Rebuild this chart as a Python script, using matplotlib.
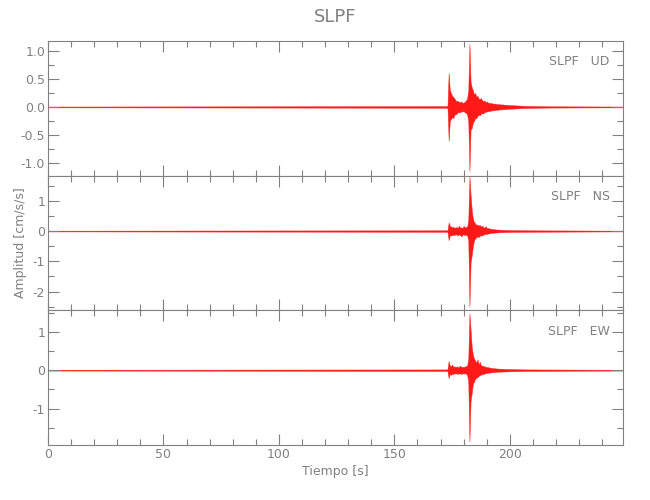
import numpy as np
import matplotlib
matplotlib.use("Agg")
import matplotlib.pyplot as plt
from matplotlib.ticker import MultipleLocator, FormatStrFormatter

# ---------------- data ----------------
station = "SLPF"
components = ["UD", "NS", "EW"]
record_start, record_end = 0.0, 249.0
t_active = np.arange(172.0, 216.01, 0.5)   # envelope sample times [s]

quiet_ud, quiet_ns, quiet_ew = 0.007, 0.012, 0.010

ud_upper = [0.015, 0.015, 0.02, 0.61, 0.30, 0.25, 0.20, 0.18, 0.15, 0.12,
            0.10, 0.11, 0.09, 0.08, 0.10, 0.07, 0.08, 0.09, 0.12, 0.15,
            0.30, 1.13, 0.45, 0.35, 0.30, 0.22, 0.25, 0.18, 0.20, 0.15,
            0.14, 0.16, 0.12, 0.10, 0.12, 0.08, 0.10, 0.08, 0.07, 0.07,
            0.07, 0.06, 0.06, 0.06, 0.055, 0.05, 0.05, 0.05, 0.045, 0.045,
            0.045, 0.04, 0.04, 0.04, 0.035, 0.035, 0.035, 0.03, 0.03, 0.03,
            0.03, 0.028, 0.027, 0.026, 0.025, 0.024, 0.023, 0.022, 0.021, 0.02,
            0.02, 0.019, 0.019, 0.018, 0.018, 0.017, 0.017, 0.016, 0.016, 0.015,
            0.015, 0.015, 0.014, 0.014, 0.014, 0.013, 0.013, 0.013, 0.012]
ud_lower = [-0.015, -0.015, -0.02, -0.61, -0.25, -0.22, -0.18, -0.20, -0.14, -0.13,
            -0.12, -0.09, -0.10, -0.09, -0.08, -0.08, -0.07, -0.10, -0.10, -0.14,
            -0.25, -1.15, -0.40, -0.38, -0.28, -0.25, -0.20, -0.20, -0.16, -0.14,
            -0.15, -0.12, -0.11, -0.12, -0.09, -0.09, -0.08, -0.07, -0.08, -0.07,
            -0.06, -0.065, -0.055, -0.06, -0.05, -0.05, -0.05, -0.045, -0.045, -0.045,
            -0.04, -0.04, -0.04, -0.035, -0.035, -0.035, -0.03, -0.03, -0.03, -0.03,
            -0.028, -0.028, -0.026, -0.025, -0.025, -0.023, -0.022, -0.022, -0.02, -0.02,
            -0.019, -0.019, -0.018, -0.018, -0.017, -0.017, -0.016, -0.016, -0.015, -0.015,
            -0.015, -0.014, -0.014, -0.014, -0.013, -0.013, -0.013, -0.012, -0.012]

ns_upper = [0.025, 0.025, 0.03, 0.28, 0.18, 0.15, 0.12, 0.14, 0.11, 0.12,
            0.13, 0.10, 0.18, 0.11, 0.12, 0.10, 0.17, 0.12, 0.13, 0.15,
            0.35, 1.80, 1.20, 0.70, 0.40, 0.30, 0.25, 0.20, 0.22, 0.18,
            0.20, 0.15, 0.18, 0.12, 0.12, 0.16, 0.10, 0.10, 0.09, 0.08,
            0.07, 0.07, 0.06, 0.06, 0.05, 0.05, 0.05, 0.045, 0.045, 0.04,
            0.04, 0.04, 0.038, 0.036, 0.035, 0.034, 0.033, 0.032, 0.031, 0.03,
            0.03, 0.03, 0.029, 0.029, 0.028, 0.028, 0.027, 0.027, 0.027, 0.026,
            0.026, 0.026, 0.026, 0.025, 0.025, 0.025, 0.025, 0.025, 0.024, 0.024,
            0.024, 0.024, 0.023, 0.023, 0.023, 0.023, 0.022, 0.022, 0.022]
ns_lower = [-0.025, -0.025, -0.03, -0.30, -0.15, -0.14, -0.14, -0.12, -0.13, -0.11,
            -0.12, -0.14, -0.11, -0.13, -0.18, -0.11, -0.12, -0.13, -0.12, -0.15,
            -0.30, -2.50, -1.05, -0.80, -0.50, -0.30, -0.25, -0.20, -0.18, -0.20,
            -0.15, -0.14, -0.15, -0.12, -0.10, -0.10, -0.09, -0.08, -0.08, -0.07,
            -0.06, -0.06, -0.055, -0.05, -0.05, -0.045, -0.045, -0.04, -0.04, -0.04,
            -0.038, -0.036, -0.035, -0.034, -0.033, -0.032, -0.031, -0.03, -0.03, -0.03,
            -0.029, -0.029, -0.028, -0.028, -0.027, -0.027, -0.026, -0.026, -0.026, -0.025,
            -0.025, -0.025, -0.025, -0.025, -0.024, -0.024, -0.024, -0.024, -0.023, -0.023,
            -0.023, -0.023, -0.023, -0.022, -0.022, -0.022, -0.022, -0.022, -0.022]

ew_upper = [0.02, 0.02, 0.025, 0.24, 0.12, 0.10, 0.15, 0.09, 0.10, 0.08,
            0.10, 0.08, 0.09, 0.12, 0.08, 0.09, 0.08, 0.10, 0.10, 0.12,
            0.30, 1.48, 1.06, 0.60, 0.40, 0.30, 0.25, 0.20, 0.28, 0.15,
            0.22, 0.13, 0.12, 0.11, 0.10, 0.09, 0.08, 0.08, 0.07, 0.065,
            0.06, 0.055, 0.05, 0.05, 0.045, 0.045, 0.04, 0.04, 0.04, 0.038,
            0.036, 0.035, 0.034, 0.033, 0.032, 0.031, 0.03, 0.029, 0.028, 0.027,
            0.026, 0.025, 0.025, 0.024, 0.024, 0.023, 0.023, 0.022, 0.022, 0.021,
            0.021, 0.021, 0.02, 0.02, 0.02, 0.02, 0.02, 0.02, 0.02, 0.02,
            0.019, 0.019, 0.019, 0.019, 0.018, 0.018, 0.018, 0.018, 0.018]
ew_lower = [-0.02, -0.02, -0.025, -0.21, -0.10, -0.12, -0.09, -0.10, -0.08, -0.09,
            -0.08, -0.10, -0.08, -0.09, -0.10, -0.08, -0.09, -0.08, -0.09, -0.12,
            -0.30, -1.86, -0.80, -0.60, -0.35, -0.30, -0.22, -0.20, -0.18, -0.15,
            -0.12, -0.12, -0.10, -0.10, -0.09, -0.08, -0.07, -0.07, -0.06, -0.06,
            -0.055, -0.05, -0.05, -0.045, -0.045, -0.04, -0.04, -0.04, -0.038, -0.036,
            -0.035, -0.034, -0.033, -0.032, -0.031, -0.03, -0.029, -0.028, -0.027, -0.026,
            -0.025, -0.025, -0.024, -0.024, -0.023, -0.023, -0.022, -0.022, -0.021, -0.021,
            -0.021, -0.02, -0.02, -0.02, -0.02, -0.02, -0.02, -0.02, -0.02, -0.019,
            -0.019, -0.019, -0.019, -0.018, -0.018, -0.018, -0.018, -0.018, -0.018]

traces = {
    "UD": (quiet_ud, ud_upper, ud_lower),
    "NS": (quiet_ns, ns_upper, ns_lower),
    "EW": (quiet_ew, ew_upper, ew_lower),
}
ylims = {"UD": (-1.23, 1.18), "NS": (-2.62, 1.83), "EW": (-1.95, 1.56)}
ymajor = {"UD": 0.5, "NS": 1.0, "EW": 1.0}
yminor = {"UD": 0.25, "NS": 0.5, "EW": 0.5}
yfmt = {"UD": "%.1f", "NS": "%d", "EW": "%d"}

# ---------------- drawing ----------------
grey = "#808080"
plt.rcParams["font.family"] = ["DejaVu Sans"]
fig = plt.figure(figsize=(6.5, 5.0), dpi=100)
axes = fig.subplots(3, 1, sharex=True)
fig.subplots_adjust(left=48 / 650, right=623 / 650, top=1 - 41 / 500,
                    bottom=1 - 445 / 500, hspace=0)

for ax, comp in zip(axes, components):
    q, up, lo = traces[comp]
    t = np.concatenate([[record_start], t_active, [record_end]])
    upper = np.concatenate([[q], up, [q]])
    lower = np.concatenate([[-q], lo, [-q]])
    ax.fill_between(t, lower, upper, facecolor="#ff0000", edgecolor="#ff2020",
                    linewidth=0.35, alpha=0.9)
    ax.set_xlim(record_start, record_end)
    ax.set_ylim(*ylims[comp])
    ax.yaxis.set_major_locator(MultipleLocator(ymajor[comp]))
    ax.yaxis.set_minor_locator(MultipleLocator(yminor[comp]))
    ax.yaxis.set_major_formatter(FormatStrFormatter(yfmt[comp]))
    ax.xaxis.set_major_locator(MultipleLocator(50))
    ax.xaxis.set_minor_locator(MultipleLocator(10))
    ax.tick_params(which="both", direction="in", top=True, right=True,
                   colors=grey, labelcolor=grey, labelsize=9, width=0.8, pad=2)
    ax.tick_params(which="major", length=8)
    ax.tick_params(which="minor", length=4)
    for s in ax.spines.values():
        s.set_color(grey)
        s.set_linewidth(0.8)
    ax.text(0.977, 0.845, f"{station}   {comp}", transform=ax.transAxes,
            ha="right", va="center", fontsize=9, color=grey)

axes[0].set_title(station, fontsize=13, color=grey, pad=14)
axes[1].set_ylabel("Amplitud [cm/s/s]", fontsize=9, color=grey)
axes[1].yaxis.set_label_coords(-0.036, 0.5)
axes[2].set_xlabel("Tiempo [s]", fontsize=9, color=grey, labelpad=3)

fig.savefig("out.png", dpi=100)
